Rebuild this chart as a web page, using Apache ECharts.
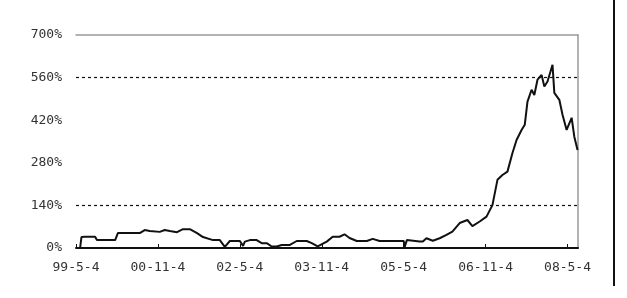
<!DOCTYPE html>
<html>
<head>
<meta charset="utf-8">
<script src="https://cdn.jsdelivr.net/npm/echarts@6/dist/echarts.min.js"></script>
<style>
  html, body { margin: 0; padding: 0; background: #fff; }
  #chart { width: 627px; height: 298px; }
</style>
</head>
<body>
<div id="chart"></div>
<script>
// months since 1999-05-04, cumulative return (%)
var months = [0.9, 1.2, 2.0, 4.2, 4.6, 8.6, 9.2, 14.0, 15.1, 16.2, 18.4, 19.5, 20.6, 22.2, 23.5, 25.0,
  26.6, 27.9, 30.1, 31.6, 32.7, 33.8, 36.0, 36.7, 37.1, 38.2, 39.7, 40.8, 41.9, 43.0, 44.1, 45.2,
  47.0, 48.5, 50.7, 51.8, 53.1, 55.1, 56.4, 57.9, 59.0, 60.1, 61.7, 63.9, 65.2, 66.7, 71.1, 72.0,
  72.2, 72.7, 75.5, 76.2, 77.0, 78.4, 79.9, 81.4, 82.7, 84.3, 86.0, 87.1, 88.7, 90.2, 91.5, 92.6,
  93.7, 94.8, 95.9, 96.8, 97.9, 98.6, 99.2, 100.1, 100.7, 101.4, 102.3, 102.9, 103.6, 104.7, 105.1,
  106.2, 106.9, 107.8, 108.9, 109.5, 110.2];
var values = [0, 36, 37, 37, 26, 26, 49, 49, 59, 56, 53, 59, 56, 52, 62, 62,
  49, 36, 26, 26, 4, 23, 23, 7, 21, 26, 26, 16, 16, 5, 5, 10,
  10, 23, 23, 16, 5, 21, 37, 37, 45, 33, 23, 23, 30, 23, 23, 23,
  3, 26, 21, 21, 32, 24, 32, 43, 54, 82, 92, 72, 87, 103, 141, 224,
  240, 251, 312, 355, 388, 405, 481, 520, 503, 553, 569, 531, 547, 602, 510,
  487, 438, 388, 428, 365, 322];
var xTickLabels = ['99-5-4', '00-11-4', '02-5-4', '03-11-4', '05-5-4', '06-11-4', '08-5-4'];
var yTicks = [0, 140, 280, 420, 560, 700];

var chart = echarts.init(document.getElementById('chart'));
var font = 'DejaVu Sans Mono';

chart.setOption({
  animation: false,
  grid: { left: 76, right: 49, top: 35, bottom: 50 },
  xAxis: [{
    type: 'value', min: 0, max: 110.3, interval: 18,
    axisLine: { lineStyle: { color: '#111', width: 2 } },
    axisTick: { inside: true, length: 4, lineStyle: { color: '#111' } },
    axisLabel: {
      showMaxLabel: false, margin: 13, color: '#333', fontSize: 13, fontFamily: font,
      formatter: function (v) { return xTickLabels[Math.round(v / 18)] || ''; }
    },
    splitLine: { show: false }
  }, {
    type: 'value', position: 'top', min: 0, max: 110.3,
    axisLine: { show: true, onZero: false, lineStyle: { color: '#999', width: 1.5 } },
    axisTick: { show: false }, axisLabel: { show: false }, splitLine: { show: false }
  }],
  yAxis: [{
    type: 'value', min: yTicks[0], max: yTicks[yTicks.length - 1], interval: 140,
    axisLine: { show: false }, axisTick: { show: false },
    axisLabel: { margin: 14, color: '#333', fontSize: 13, fontFamily: font,
      formatter: function (v) { return v + '%'; } },
    splitLine: { show: true, lineStyle: { type: [3, 3], width: 1.2,
      color: ['transparent', '#111', 'transparent', 'transparent', '#111', 'transparent'] } }
  }, {
    type: 'value', position: 'right', min: 0, max: 700,
    axisLine: { show: true, onZero: false, lineStyle: { color: '#999', width: 1.5 } },
    axisTick: { show: false }, axisLabel: { show: false }, splitLine: { show: false }
  }],
  graphic: [{
    type: 'line', shape: { x1: 614, y1: 0, x2: 614, y2: 286 },
    style: { stroke: '#111', lineWidth: 2 }
  }],
  series: [{
    type: 'line',
    data: months.map(function (m, i) { return [m, values[i]]; }),
    symbol: 'none',
    lineStyle: { color: '#111', width: 2 }
  }]
});
</script>
</body>
</html>
